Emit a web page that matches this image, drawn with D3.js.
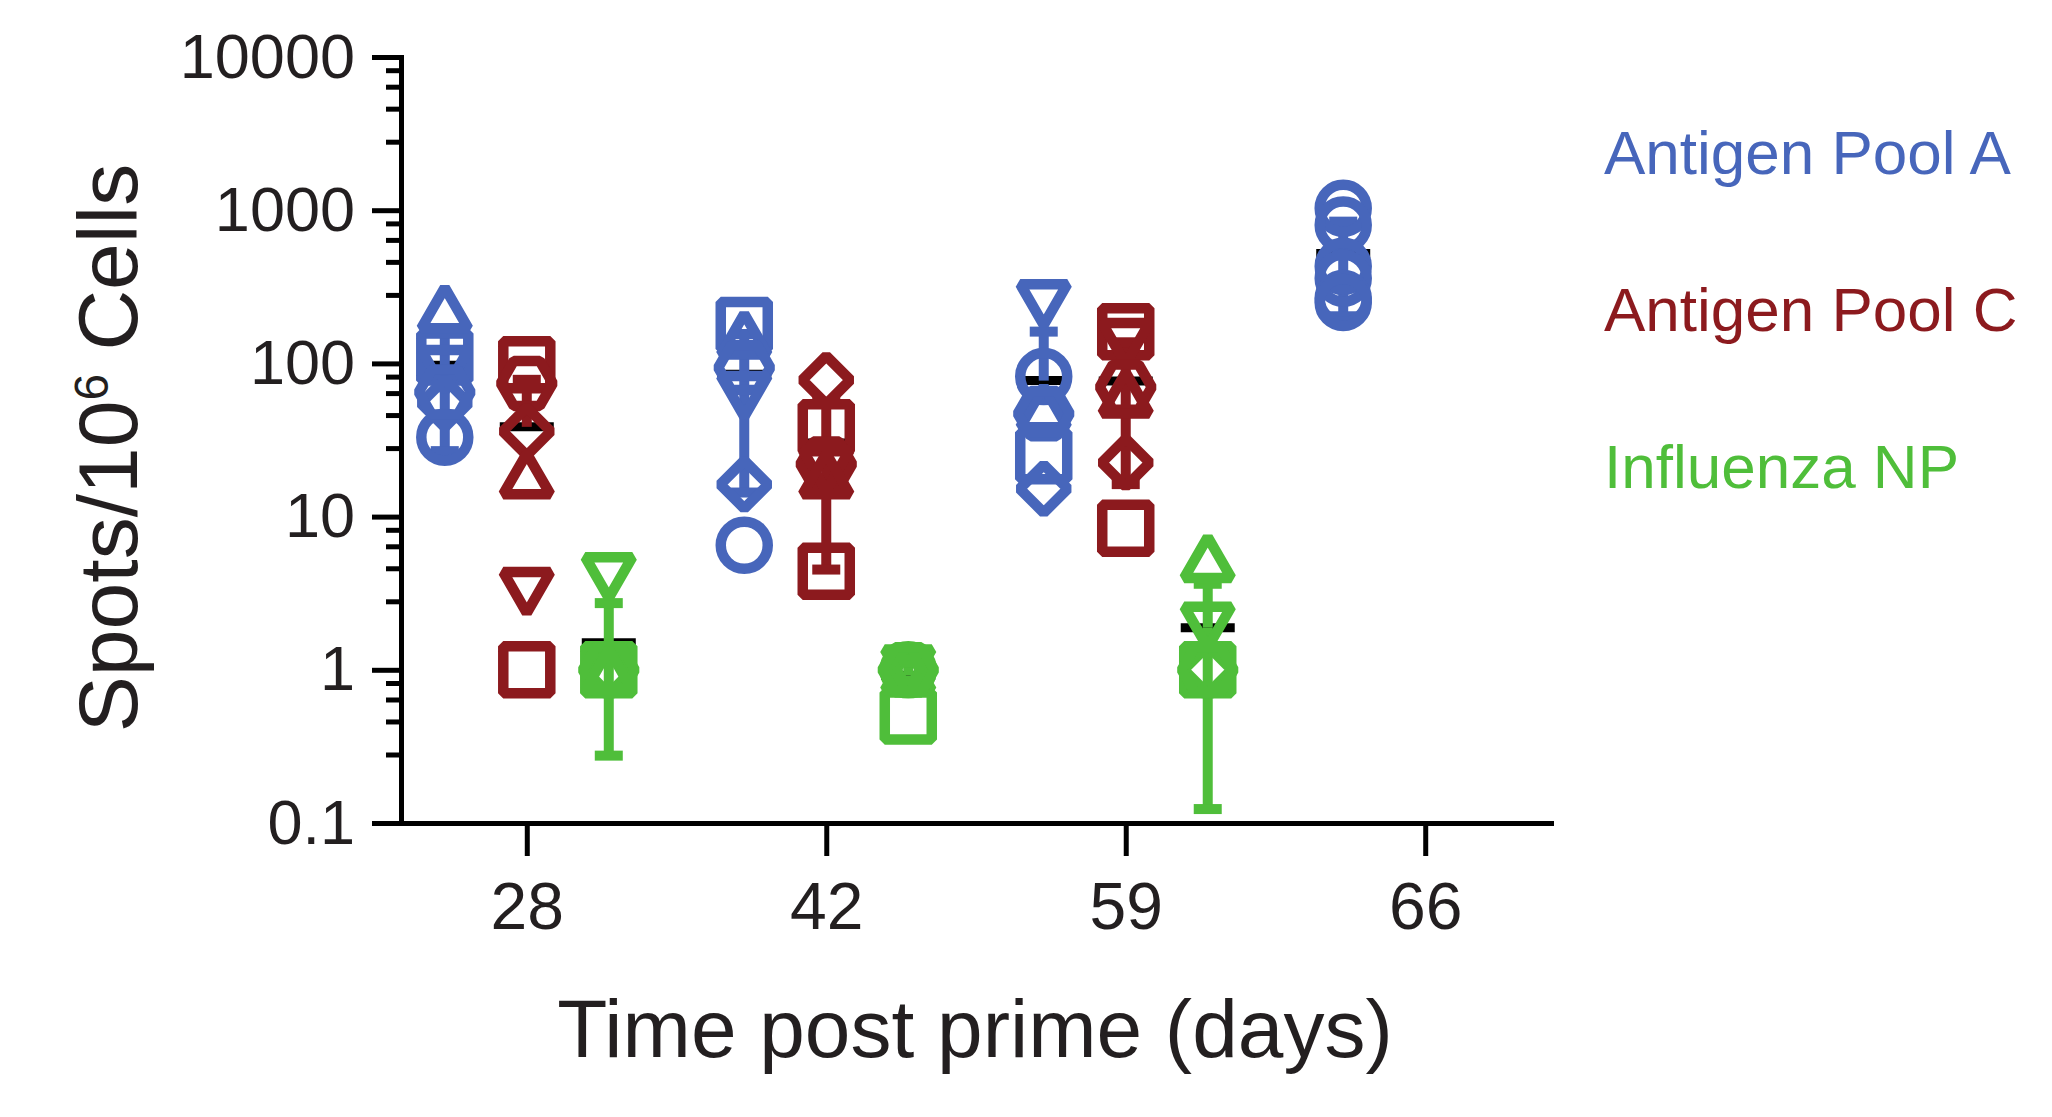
<!DOCTYPE html>
<html><head><meta charset="utf-8">
<script src="https://cdn.jsdelivr.net/npm/d3@7"></script>
<style>
html,body{margin:0;padding:0;background:#fff;}
svg{display:block;font-family:"Liberation Sans",Arial,Helvetica,sans-serif;}
</style>
</head><body>
<svg id="chart" width="2052" height="1117"></svg>
<script>
// ---------------- DATA ----------------
const days = ["28", "42", "59", "66"];
const seriesNames = ["Antigen Pool A", "Antigen Pool C", "Influenza NP"];
const yTickValues = [0.1, 1, 10, 100, 1000, 10000];
const yTickLabels = ["0.1", "1", "10", "100", "1000", "10000"];
const minorMultipliers = [2.8, 4.6, 6.4, 8.2];

// one inner array per day (28, 42, 59, 66); one value per subject
const poolAValues = [
  [33, 110, 230, 90, 55, 65],
  [177, 155, 94, 61, 16.2, 6.5],
  [242, 82, 52, 47, 25, 15.2],
  [1030, 800, 430, 360, 265, 250]
];
const poolAShapes = [
  ["circle", "square", "triangleUp", "triangleDown", "diamond", "hexagon"],
  ["square", "triangleUp", "hexagon", "triangleDown", "diamond", "circle"],
  ["triangleDown", "circle", "triangleUp", "hexagon", "square", "diamond"],
  ["circle", "circle", "circle", "circle", "circle", "circle"]
];
const poolCValues = [
  [98, 74, 36, 19, 3.2, 1.0],
  [78, 38, 22, 20, 19, 4.4],
  [161, 135, 70, 64, 22.5, 8.4],
  []
];
const poolCShapes = [
  ["square", "hexagon", "diamond", "triangleUp", "triangleDown", "square"],
  ["diamond", "square", "hexagon", "triangleDown", "triangleUp", "square"],
  ["square", "triangleDown", "hexagon", "triangleUp", "diamond", "square"],
  []
];
const npValues = [
  [4.0, 1, 1, 1, 1, 1],
  [1, 0.5, 1, 1, 1, 1],
  [5.4, 1.9, 1, 1, 1, 1],
  []
];
const npShapes = [
  ["triangleDown", "circle", "square", "diamond", "hexagon", "triangleUp"],
  ["circle", "square", "triangleUp", "triangleDown", "diamond", "hexagon"],
  ["triangleUp", "triangleDown", "circle", "square", "diamond", "hexagon"],
  []
];

// ---------------- STYLE ----------------
const colors = ["#4766BB", "#8C1A1E", "#4FBE3A"];
const textColor = "#231F20";

const svg = d3.select("#chart");
const margin = {left: 401, right: 501, top: 57, bottom: 294};
const W = 2052, H = 1117;

const y = d3.scaleLog().domain([0.1, 10000]).range([H - margin.bottom, margin.top]);
const x = d3.scalePoint().domain(days).range([margin.left, W - margin.right]).padding(0.42);
const offset = d3.scalePoint().domain(seriesNames).range([-82, 82]);

// ---------- axes ----------
const minorValues = [];
yTickValues.slice(0, -1).forEach(v => minorMultipliers.forEach(m => minorValues.push(v * m)));

const yMinor = svg.append("g").attr("transform", `translate(${margin.left},0)`)
  .call(d3.axisLeft(y).tickValues(minorValues).tickSize(15).tickFormat("").tickSizeOuter(0));
yMinor.select(".domain").remove();
yMinor.selectAll("line").attr("stroke", "#000").attr("stroke-width", 5);

const yAx = svg.append("g").attr("transform", `translate(${margin.left},0)`)
  .call(d3.axisLeft(y).tickValues(yTickValues).tickFormat((d, i) => yTickLabels[i])
    .tickSize(29).tickPadding(17).tickSizeOuter(0));
yAx.select(".domain").attr("stroke", "#000").attr("stroke-width", 5).attr("stroke-linecap", "square");
yAx.selectAll("line").attr("stroke", "#000").attr("stroke-width", 5);
yAx.selectAll("text").attr("font-size", 63).attr("fill", textColor)
  .attr("font-family", '"Liberation Sans",Arial,sans-serif');

const xAx = svg.append("g").attr("transform", `translate(0,${H - margin.bottom})`)
  .call(d3.axisBottom(x).tickSize(33).tickPadding(26).tickSizeOuter(0));
xAx.select(".domain").attr("stroke", "#000").attr("stroke-width", 5).attr("stroke-linecap", "square");
xAx.selectAll("line").attr("stroke", "#000").attr("stroke-width", 5);
xAx.selectAll("text").attr("font-size", 66).attr("fill", textColor)
  .attr("font-family", '"Liberation Sans",Arial,sans-serif');

// ---------- titles ----------
svg.append("text")
  .attr("x", (margin.left + W - margin.right) / 2 - 1)
  .attr("y", 1057)
  .attr("text-anchor", "middle")
  .attr("font-size", 82)
  .attr("fill", textColor)
  .text("Time post prime (days)");

const yt = svg.append("text")
  .attr("transform", `translate(137,${(margin.top + H - margin.bottom) / 2 + 8}) rotate(-90)`)
  .attr("text-anchor", "middle")
  .attr("font-size", 84)
  .attr("fill", textColor);
yt.append("tspan").text("Spots/10");
yt.append("tspan").attr("font-size", 48).attr("dy", -29).text("6");
yt.append("tspan").attr("dy", 29).text(" Cells");

// ---------- legend ----------
seriesNames.forEach((name, i) => {
  svg.append("text")
    .attr("x", 1604)
    .attr("y", 174 + i * 157)
    .attr("font-size", 62)
    .attr("fill", colors[i])
    .text(name);
});

// ---------- marks ----------
function shapePath(type) {
  const p = d3.path();
  const s = 23.5;
  if (type === "circle") {
    p.moveTo(s, 0); p.arc(0, 0, s, 0, 2 * Math.PI); p.closePath();
  } else if (type === "square") {
    p.moveTo(-s, -s); p.lineTo(s, -s); p.lineTo(s, s); p.lineTo(-s, s); p.closePath();
  } else if (type === "triangleUp") {
    const h = 40.7 / 2;
    p.moveTo(0, -h); p.lineTo(s, h); p.lineTo(-s, h); p.closePath();
  } else if (type === "triangleDown") {
    const h = 40.7 / 2;
    p.moveTo(0, h); p.lineTo(s, -h); p.lineTo(-s, -h); p.closePath();
  } else if (type === "diamond") {
    const d = 24;
    p.moveTo(0, -d); p.lineTo(d, 0); p.lineTo(0, d); p.lineTo(-d, 0); p.closePath();
  } else if (type === "hexagon") {
    const r = 26;
    for (let k = 0; k < 6; k++) {
      const a = k * Math.PI / 3;
      const px = r * Math.cos(a), py = r * Math.sin(a);
      if (k === 0) p.moveTo(px, py); else p.lineTo(px, py);
    }
    p.closePath();
  }
  return p.toString();
}

const allSeries = [
  {name: seriesNames[0], values: poolAValues, shapes: poolAShapes, color: colors[0]},
  {name: seriesNames[1], values: poolCValues, shapes: poolCShapes, color: colors[1]},
  {name: seriesNames[2], values: npValues, shapes: npShapes, color: colors[2]}
];

const groups = [];
allSeries.forEach(ser => {
  days.forEach((day, di) => {
    const vals = ser.values[di];
    if (!vals || vals.length === 0) return;
    groups.push({
      cx: x(day) + offset(ser.name),
      color: ser.color,
      vals: vals,
      shapes: ser.shapes[di],
      mean: d3.mean(vals),
      sd: d3.deviation(vals)
    });
  });
});

const gMean = svg.append("g");
const gErr = svg.append("g");
const gPts = svg.append("g");

groups.forEach(g => {
  // mean bar
  gMean.append("line")
    .attr("x1", g.cx - 27).attr("x2", g.cx + 27)
    .attr("y1", y(g.mean)).attr("y2", y(g.mean))
    .attr("stroke", "#000").attr("stroke-width", 9);
  // error bars (mean ± SD)
  const up = g.mean + g.sd;
  const lo = g.mean - g.sd;
  const ends = [up];
  if (lo > 0) ends.push(Math.max(lo, 0.1));
  ends.forEach(v => {
    gErr.append("line")
      .attr("x1", g.cx).attr("x2", g.cx)
      .attr("y1", y(g.mean)).attr("y2", y(v))
      .attr("stroke", g.color).attr("stroke-width", 10);
    gErr.append("line")
      .attr("x1", g.cx - 14).attr("x2", g.cx + 14)
      .attr("y1", y(v)).attr("y2", y(v))
      .attr("stroke", g.color).attr("stroke-width", 10);
  });
  // points
  g.vals.forEach((v, i) => {
    gPts.append("path")
      .attr("d", shapePath(g.shapes[i]))
      .attr("transform", `translate(${g.cx},${y(v)})`)
      .attr("fill", "none")
      .attr("stroke", g.color)
      .attr("stroke-width", 10.5)
      .attr("stroke-linejoin", "bevel");
  });
});
</script>
</body></html>
